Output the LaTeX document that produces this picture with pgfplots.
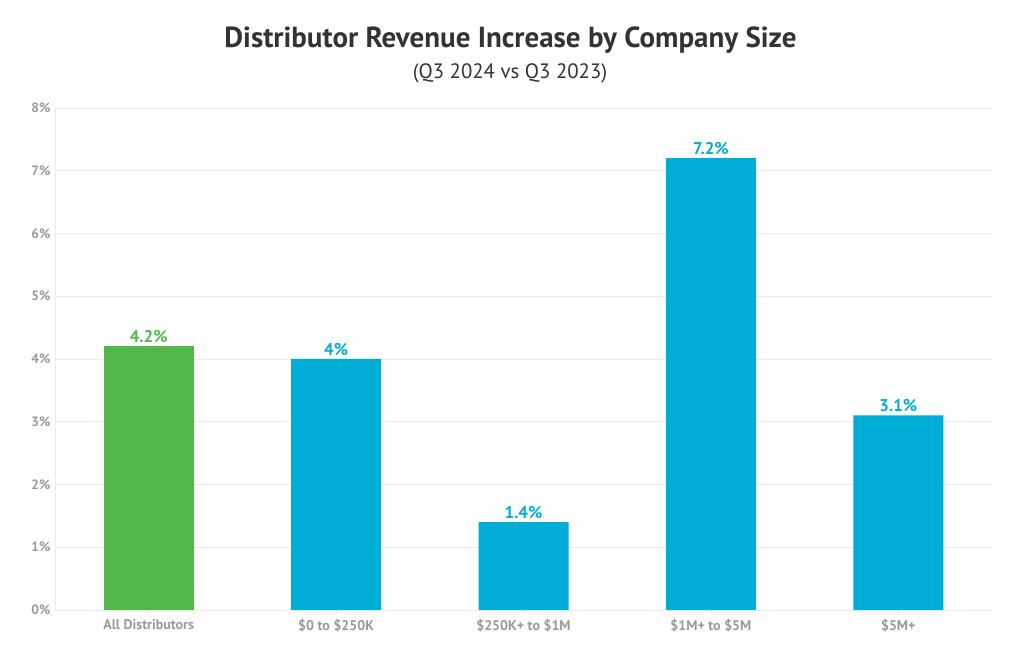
\documentclass[border=0pt]{standalone}
\usepackage{pgfplots}
\pgfplotsset{compat=1.18}
\usepackage{fontspec}
\setmainfont{PT Sans}
\definecolor{bargreen}{RGB}{82,184,74}
\definecolor{barblue}{RGB}{0,173,214}
\definecolor{titlegray}{RGB}{51,51,51}
\definecolor{tickgray}{RGB}{153,153,153}
\definecolor{gridgray}{RGB}{235,235,235}
\begin{document}
\begin{tikzpicture}
\begin{axis}[
  at={(0pt,0pt)}, anchor=south west,
  scale only axis, width=937pt, height=502pt,
  xmin=-0.5, xmax=4.5, ymin=0, ymax=8,
  xtick={0,1,2,3,4},
  xticklabels={All Distributors,\$0 to \$250K,\$250K+ to \$1M,\$1M+ to \$5M,\$5M+},
  ytick={0,1,...,8},
  yticklabel={\pgfmathprintnumber{\tick}\%},
  /pgf/number format/assume math mode=true,
  ymajorgrids, grid style={gridgray, line width=0.8pt},
  axis line style={gridgray, line width=0.8pt},
  axis x line*=bottom, axis y line*=left,
  x axis line style={-}, y axis line style={-},
  xtick style={gridgray, line width=0.8pt}, xtick pos=bottom, major tick length=5pt,
  ytick style={draw=none},
  ticklabel style={text=tickgray, font=\fontsize{13.5}{15}\selectfont\bfseries},
  xticklabel style={yshift=-1pt, font=\fontsize{14}{16}\selectfont\bfseries},
  yticklabel style={xshift=-1pt},
  ybar, bar width=90pt, bar shift=0pt,
  nodes near coords={\pgfmathprintnumber{\pgfplotspointmeta}\%},
  nodes near coords style={font=\fontsize{17}{19}\selectfont\bfseries},
  clip=false,
]
\addplot[fill=bargreen, draw=none, nodes near coords style={text=bargreen}] coordinates {(0,4.2)};
\addplot[fill=barblue, draw=none, nodes near coords style={text=barblue}] coordinates {(1,4.0) (2,1.4) (3,7.2) (4,3.1)};
\end{axis}
\node[text=titlegray,font=\fontsize{29}{34}\selectfont\bfseries] at (455.5pt,570pt) {Distributor Revenue Increase by Company Size};
\node[text=titlegray,font=\fontsize{20.8}{25}\selectfont] at (455pt,537pt) {(Q3 2024 vs Q3 2023)};
\path (-55pt,-40pt) rectangle (965pt,610pt);
\end{tikzpicture}
\end{document}
